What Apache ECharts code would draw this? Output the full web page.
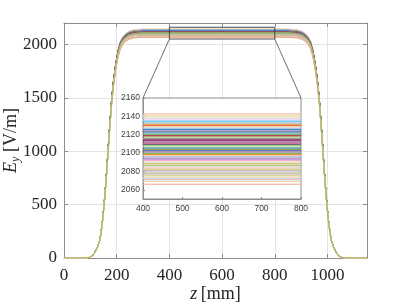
<!DOCTYPE html>
<html><head><meta charset="utf-8">
<script src="https://cdn.jsdelivr.net/npm/echarts@6/dist/echarts.min.js"></script>
<style>html,body{margin:0;padding:0;background:#fff}#c{width:407px;height:306px}</style>
</head><body><div id="c"></div>
<script>
// Shared field profile along z (normalized to plateau level)
const profileZ = [0, 70, 90, 100, 110, 120, 128, 137, 145, 152, 158, 163, 168, 174, 181, 188, 196, 205, 215, 228, 245, 265, 300,
  575,
  850, 885, 905, 922, 935, 945, 954, 962, 969, 976, 982, 987, 992, 998, 1005, 1013, 1022, 1030, 1040, 1050, 1060, 1080, 1150];
const profileShape = [0, 0, 0.001, 0.004, 0.012, 0.03, 0.05, 0.085, 0.15, 0.235, 0.32, 0.40, 0.49, 0.59, 0.70, 0.78, 0.85, 0.91, 0.95, 0.975, 0.99, 0.997, 1.0,
  1.0,
  1.0, 0.997, 0.99, 0.975, 0.95, 0.91, 0.85, 0.78, 0.70, 0.59, 0.49, 0.40, 0.32, 0.235, 0.15, 0.085, 0.05, 0.03, 0.012, 0.004, 0.001, 0, 0];
// Plateau level of each curve [V/m]
const plateauLevels = [2142.6, 2141.0, 2139.5, 2138.2, 2137.0, 2135.4, 2134.1, 2132.6, 2131.0, 2129.8, 2128.5, 2127.0, 2125.6, 2124.2, 2123.0,
  2121.7, 2120.1, 2118.9, 2117.6, 2116.0, 2114.8, 2113.5, 2112.0, 2110.7, 2109.3, 2106.6, 2105.4, 2104.0, 2102.5, 2101.2,
  2099.8, 2098.5, 2097.0, 2095.8, 2094.4, 2093.0, 2091.6, 2090.3, 2088.9, 2087.5, 2086.2, 2084.7, 2083.4, 2082.0, 2080.8,
  2079.3, 2078.0, 2076.4, 2075.2, 2073.6, 2072.3, 2070.9, 2069.0, 2066.1, 2108.0];
const lineColors = ['#f4a98c', '#ece6a8', '#dbe7ab', '#f3c9d4', '#d9cbe9', '#a6d5f0', '#4dbeee', '#a3a6b8', '#ee9b3c', '#d95319', '#e9cba2', '#8bb9e2', '#3f80c2', '#8e6cb2', '#2b5b9b',
  '#47a1b2', '#7aa95c', '#a2142f', '#8d8d42', '#7fa082', '#b24192', '#812142', '#7e2f8e', '#c2517b', '#616272', '#a9d992', '#0072bd', '#9a9a35', '#313d8d', '#9161a9',
  '#5b9b3b', '#e99131', '#f1b979', '#89b1e9', '#b171b9', '#c1a1d9', '#e991b1', '#e6dff0', '#c9b941', '#e1d9b1', '#89b959', '#f1c1c9', '#f1c9a1', '#c7d98a', '#b7a3cf',
  '#d8b0a0', '#a8c8a0', '#e4b3c8', '#c9d46f', '#f2d2b8', '#b9dbe8', '#e8a3a8', '#ddd6a6', '#f2a58a', '#9dbf5a'];
const mainXTicks = [0, 200, 400, 600, 800, 1000];
const mainYTicks = [0, 500, 1000, 1500, 2000];
const mainXRange = [0, 1150];
const mainYRange = [0, 2200];
const insetXRange = [400, 800];
const insetYRange = [2050, 2160];
const insetXTicks = [400, 500, 600, 700, 800];
const insetYTicks = [2060, 2080, 2100, 2120, 2140, 2160];

const serif = 'Liberation Serif';
const sans = 'Liberation Sans';
const boxColor = '#8c8c8c';
const gridColor = '#e4e4e4';

const chart = echarts.init(document.getElementById('c'), null, {renderer: 'canvas'});
const series = [];
plateauLevels.forEach((lvl, i) => {
  series.push({
    type: 'line', xAxisIndex: 0, yAxisIndex: 0, silent: true, symbol: 'none', z: 2,
    data: profileZ.map((z, k) => [z, profileShape[k] * lvl]),
    lineStyle: {width: 1, color: lineColors[i]}
  });
});
series.push({
  type: 'line', xAxisIndex: 0, yAxisIndex: 0, silent: true, symbol: 'none', z: 3,
  data: [[insetXRange[0], insetYRange[0]], [insetXRange[1], insetYRange[0]], [insetXRange[1], insetYRange[1]],
         [insetXRange[0], insetYRange[1]], [insetXRange[0], insetYRange[0]]],
  lineStyle: {width: 0.9, color: '#3a3a3a'}
});
plateauLevels.forEach((lvl, i) => {
  series.push({
    type: 'line', xAxisIndex: 2, yAxisIndex: 2, silent: true, symbol: 'none', z: 5,
    data: insetXRange.map(z => [z, lvl]),
    lineStyle: {width: 1, color: lineColors[i]}
  });
});

function axisBase(extra) {
  return Object.assign({
    type: 'value',
    axisLine: {show: true, onZero: false, lineStyle: {color: boxColor, width: 1}},
    axisTick: {show: true, inside: true, length: 4, lineStyle: {color: boxColor}},
    splitLine: {show: false},
    axisLabel: {show: false}
  }, extra);
}

chart.setOption({
  animation: false,
  backgroundColor: '#fff',
  grid: [
    {left: 64, top: 23, width: 303, height: 235, show: false, containLabel: false, outerBoundsMode: 'none'},
    {left: 143, top: 98, width: 158, height: 101, show: true, backgroundColor: '#fff', borderColor: boxColor, borderWidth: 1, z: 3,
     containLabel: false, outerBoundsMode: 'none'}
  ],
  xAxis: [
    axisBase({gridIndex: 0, position: 'bottom', min: mainXRange[0], max: mainXRange[1], interval: 200,
      splitLine: {show: true, lineStyle: {color: gridColor, width: 1}},
      axisLabel: {show: true, margin: 9, color: '#262626', fontFamily: serif, fontSize: 17,
        formatter: v => mainXTicks.includes(v) ? String(v) : ''},
      name: '{i|z} {n|[mm]}', nameLocation: 'middle', nameGap: 27, nameMoveOverlap: false,
      nameTextStyle: {rich: {i: {fontFamily: serif, fontStyle: 'italic', fontSize: 18, color: '#262626'},
                             n: {fontFamily: serif, fontSize: 18, color: '#262626'}}}
    }),
    axisBase({gridIndex: 0, position: 'top', min: mainXRange[0], max: mainXRange[1], interval: 200}),
    axisBase({gridIndex: 1, position: 'bottom', min: insetXRange[0], max: insetXRange[1], interval: 100, z: 4,
      axisTick: {show: true, inside: true, length: 2, lineStyle: {color: boxColor}},
      axisLabel: {show: true, margin: 5, color: '#404040', fontFamily: sans, fontSize: 8.5,
        formatter: v => insetXTicks.includes(v) ? String(v) : ''}
    })
  ],
  yAxis: [
    axisBase({gridIndex: 0, position: 'left', min: mainYRange[0], max: mainYRange[1], interval: 500,
      splitLine: {show: true, lineStyle: {color: gridColor, width: 1}},
      axisLabel: {show: true, margin: 7, color: '#262626', fontFamily: serif, fontSize: 17,
        formatter: v => mainYTicks.includes(v) ? String(v) : ''},
      name: '{e|E}{s|y}{n| [V/m]}', nameLocation: 'middle', nameGap: 42, nameRotate: 90, nameMoveOverlap: false,
      nameTextStyle: {rich: {
        e: {fontFamily: serif, fontStyle: 'italic', fontSize: 18, color: '#262626', lineHeight: 22},
        s: {fontFamily: serif, fontStyle: 'italic', fontSize: 12, color: '#262626', lineHeight: 10, verticalAlign: 'bottom'},
        n: {fontFamily: serif, fontSize: 18, color: '#262626', lineHeight: 22}}}
    }),
    axisBase({gridIndex: 0, position: 'right', min: mainYRange[0], max: mainYRange[1], interval: 500}),
    axisBase({gridIndex: 1, position: 'left', min: insetYRange[0], max: insetYRange[1], interval: 10, z: 4,
      axisTick: {show: true, inside: true, length: 2, customValues: insetYTicks, lineStyle: {color: boxColor}},
      axisLabel: {show: true, margin: 3, color: '#404040', fontFamily: sans, fontSize: 8.5,
        formatter: v => insetYTicks.includes(v) ? String(v) : ''}
    })
  ],
  series: series
});

// Connector lines from the zoom rectangle to the inset, positioned through the library's scales
const a1 = chart.convertToPixel({gridIndex: 0}, [insetXRange[0], insetYRange[0]]);
const a2 = chart.convertToPixel({gridIndex: 0}, [insetXRange[1], insetYRange[0]]);
const b1 = chart.convertToPixel({gridIndex: 1}, [insetXRange[0], insetYRange[1]]);
const b2 = chart.convertToPixel({gridIndex: 1}, [insetXRange[1], insetYRange[1]]);
chart.setOption({
  graphic: [
    {type: 'line', z: 10, silent: true, shape: {x1: a1[0], y1: a1[1], x2: b1[0], y2: b1[1]}, style: {stroke: '#4a4a4a', lineWidth: 0.8}},
    {type: 'line', z: 10, silent: true, shape: {x1: a2[0], y1: a2[1], x2: b2[0], y2: b2[1]}, style: {stroke: '#4a4a4a', lineWidth: 0.8}}
  ]
});
</script>
</body></html>
